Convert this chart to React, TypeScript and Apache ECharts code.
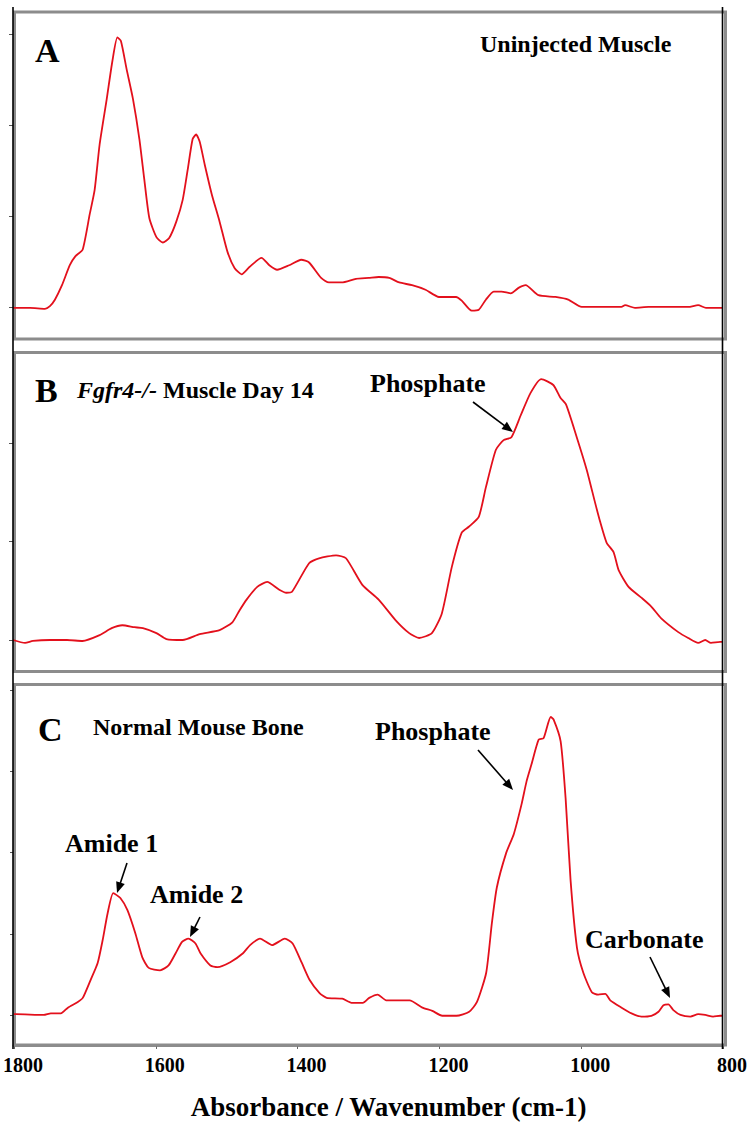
import React, { useEffect, useRef } from "react";
import * as echarts from "echarts";

// Wavenumber (cm-1) and absorbance (arbitrary units)
const waveA = [1800,1776,1755,1748,1741,1731,1720,1712,1702,1692,1685,1678,1668,1660,1653,1648,1640,1631,1622,1615,1608,1598,1589,1580,1570,1561,1554,1547,1542,1537,1530,1520,1509,1498,1488,1478,1467,1450,1439,1428,1411,1394,1383,1366,1355,1337,1317,1299,1285,1270,1256,1238,1219,1200,1176,1168,1154,1144,1134,1123,1112,1099,1088,1078,1060,1036,1018,999,943,938,924,905,849,835,824,804,800];
const absA = [-0.01,-0.01,-0.02,0.01,0.08,0.24,0.46,0.56,0.63,1.02,1.29,1.79,2.29,2.71,2.97,2.93,2.62,2.29,1.85,1.40,0.98,0.77,0.71,0.76,0.94,1.18,1.51,1.85,1.90,1.82,1.57,1.24,0.94,0.61,0.43,0.36,0.44,0.54,0.46,0.41,0.46,0.52,0.49,0.32,0.27,0.27,0.31,0.32,0.33,0.32,0.27,0.24,0.19,0.11,0.11,0.07,-0.04,-0.03,0.08,0.17,0.17,0.15,0.21,0.24,0.13,0.11,0.08,0,0,0.02,-0.01,0,0,0.02,-0.01,-0.01,-0.01];

const waveB = [1800,1783,1772,1748,1724,1702,1678,1661,1646,1629,1617,1598,1584,1561,1537,1509,1491,1481,1471,1456,1442,1425,1415,1407,1383,1369,1345,1331,1308,1285,1261,1242,1228,1210,1196,1182,1168,1158,1144,1134,1120,1109,1098,1085,1071,1056,1039,1029,1021,1006,992,980,973,964,954,947,933,915,901,887,863,849,835,825,817,804,800];
const absB = [0,-0.03,-0.01,0,0,-0.01,0.05,0.12,0.15,0.13,0.12,0.07,0.01,0,0.06,0.10,0.18,0.30,0.41,0.54,0.59,0.51,0.48,0.49,0.78,0.83,0.86,0.83,0.56,0.41,0.20,0.07,0.02,0.07,0.27,0.74,1.09,1.15,1.25,1.55,1.93,2.03,2.06,2.28,2.51,2.65,2.59,2.46,2.39,2.06,1.73,1.39,1.20,0.99,0.89,0.71,0.54,0.43,0.34,0.22,0.08,0.02,-0.03,0,-0.03,-0.02,-0.02];

const waveC = [1800,1797,1758,1748,1734,1724,1710,1703,1692,1682,1675,1668,1660,1650,1640,1629,1619,1610,1594,1582,1572,1563,1554,1544,1537,1523,1513,1495,1477,1467,1453,1436,1418,1407,1394,1383,1369,1359,1337,1324,1308,1299,1287,1275,1242,1224,1210,1196,1176,1158,1147,1134,1126,1119,1106,1095,1084,1077,1070,1060,1053,1043,1039,1029,1022,1015,1006,997,985,976,966,959,943,929,915,901,891,884,877,870,860,846,835,825,814,804,800];
const absC = [0.01,0.01,0,0.02,0.02,0.09,0.16,0.21,0.43,0.64,0.92,1.25,1.50,1.44,1.29,1.01,0.71,0.58,0.55,0.61,0.76,0.90,0.94,0.88,0.76,0.61,0.59,0.65,0.76,0.86,0.94,0.86,0.94,0.88,0.64,0.43,0.27,0.21,0.20,0.15,0.15,0.21,0.25,0.18,0.18,0.09,0.05,-0.01,-0.01,0.04,0.16,0.52,1.13,1.57,1.99,2.23,2.60,2.88,3.09,3.39,3.41,3.67,3.64,3.37,2.67,1.66,0.83,0.52,0.28,0.25,0.26,0.18,0.09,0.02,-0.02,-0.01,0.04,0.12,0.13,0.06,0,-0.02,0.01,0,-0.02,-0.01,-0.01];

const xTicks = [1800, 1600, 1400, 1200, 1000, 800];
const yTicksA = [0, 1, 2, 3];
const yTicksB = [0, 1, 2];
const yTicksC = [0, 1, 2, 3, 4];

const panelTitles = ["Uninjected Muscle", "Muscle Day 14", "Normal Mouse Bone"];
const axisTitle = "Absorbance / Wavenumber (cm-1)";

const SERIF = "Liberation Serif, Times New Roman, serif";
const RED = "#e3101c";

function zip(xs: number[], ys: number[]) {
  return xs.map((x, i) => [x, ys[i]]);
}

function arrow(x1: number, y1: number, x2: number, y2: number) {
  const dx = x2 - x1, dy = y2 - y1;
  const len = Math.sqrt(dx * dx + dy * dy);
  const ux = dx / len, uy = dy / len;
  const L = 11, W = 4.5;
  const bx = x2 - ux * L, by = y2 - uy * L;
  return [
    { type: "line", z: 20, shape: { x1, y1, x2: bx + ux * 2, y2: by + uy * 2 }, style: { stroke: "#000", lineWidth: 1.6 } },
    {
      type: "polygon", z: 20,
      shape: { points: [[x2, y2], [bx - uy * W, by + ux * W], [bx + uy * W, by - ux * W]] },
      style: { fill: "#000" },
    },
  ];
}

function label(text: string, x: number, y: number, size: number, extra: any = {}) {
  return {
    type: "text", z: 20, x, y,
    style: {
      text, fill: "#000", font: `bold ${size}px ${SERIF}`,
      textAlign: "left", textVerticalAlign: "middle", ...extra,
    },
  };
}

export default function App() {
  const ref = useRef<HTMLDivElement>(null);
  useEffect(() => {
    document.body.style.margin = "0";
    const chart = echarts.init(ref.current!, null, { renderer: "svg" });
    const grids = [
      { left: 13, right: 27, top: 12, height: 327 },
      { left: 13, right: 27, top: 352.5, height: 319 },
      { left: 13, right: 27, top: 684.5, height: 360.5 },
    ];
    const yRanges = [
      { min: -0.353, max: 3.25, ticks: yTicksA },
      { min: -0.32, max: 2.92, ticks: yTicksB },
      { min: -0.37, max: 4.07, ticks: yTicksC },
    ];
    const xAxes = grids.map((_, i) => ({
      type: "value", gridIndex: i, min: 800, max: 1800, inverse: true,
      splitLine: { show: false },
      axisLine: { show: i === 2, onZero: false, lineStyle: { color: "#8c8c8c", width: 3 } },
      axisTick: { show: i === 2, customValues: xTicks, length: 4, lineStyle: { color: "#666", width: 1 } },
      axisLabel: {
        show: i === 2, customValues: xTicks, color: "#000", fontFamily: SERIF, fontWeight: "bold",
        fontSize: 20, margin: 10, padding: [0, 0, 0, 18],
        formatter: (v: number) => String(v),
      },
      name: i === 2 ? axisTitle : "",
      nameLocation: "middle", nameGap: 48,
      nameTextStyle: { color: "#000", fontFamily: SERIF, fontWeight: "bold", fontSize: 27, padding: [0, 0, 0, 40] },
    }));
    const yAxes = yRanges.map((r, i) => ({
      type: "value", gridIndex: i, min: r.min, max: r.max,
      splitLine: { show: false },
      axisLine: { show: false, onZero: false },
      axisTick: { show: true, customValues: r.ticks, length: 4, lineStyle: { color: "#555", width: 1 } },
      axisLabel: { show: false },
    }));
    const series = [zip(waveA, absA), zip(waveB, absB), zip(waveC, absC)].map((d, i) => ({
      type: "line", xAxisIndex: i, yAxisIndex: i, data: d, showSymbol: false, smooth: 0.2,
      lineStyle: { color: RED, width: 1.8 }, z: 5,
    }));
    const frames = grids.map((g) => ({
      type: "rect", z: 1,
      shape: { x: 14.5, y: g.top, width: 711, height: g.height },
      style: { fill: "none", stroke: "#8c8c8c", lineWidth: 3 },
    }));
    const graphics: any[] = [
      ...frames,
      { type: "line", z: 15, shape: { x1: 13, y1: 7, x2: 13, y2: 1049 }, style: { stroke: "#000", lineWidth: 1.6 } },
      { type: "line", z: 15, shape: { x1: 722.5, y1: 7, x2: 722.5, y2: 1049 }, style: { stroke: "#000", lineWidth: 1.6 } },
      label("A", 35, 50, 34),
      label(panelTitles[0], 480, 44, 24),
      label("B", 35, 390, 34),
      {
        type: "text", z: 20, x: 77, y: 390,
        style: {
          text: "{i|Fgfr4-/-} " + panelTitles[1], fill: "#000", font: `bold 24px ${SERIF}`,
          textAlign: "left", textVerticalAlign: "middle",
          rich: { i: { fontStyle: "italic", fontWeight: "bold", fontSize: 24, fontFamily: SERIF, fill: "#000" } },
        },
      },
      label("Phosphate", 370, 383, 26),
      ...arrow(473, 402, 513, 432),
      label("C", 38, 729, 34),
      label(panelTitles[2], 93, 727, 24),
      label("Phosphate", 375, 731, 26),
      ...arrow(478, 750, 513, 790),
      label("Amide 1", 65, 843, 26),
      ...arrow(127, 863, 117, 893),
      label("Amide 2", 150, 894, 26),
      ...arrow(200, 917, 190, 937),
      label("Carbonate", 585, 939, 26),
      ...arrow(650, 957, 670, 998),
    ];
    chart.setOption({
      animation: false,
      backgroundColor: "#fff",
      grid: grids,
      xAxis: xAxes,
      yAxis: yAxes,
      series,
      graphic: graphics,
    });
    return () => chart.dispose();
  }, []);
  return <div ref={ref} style={{ width: 750, height: 1126, position: "absolute", left: 0, top: 0 }} />;
}
